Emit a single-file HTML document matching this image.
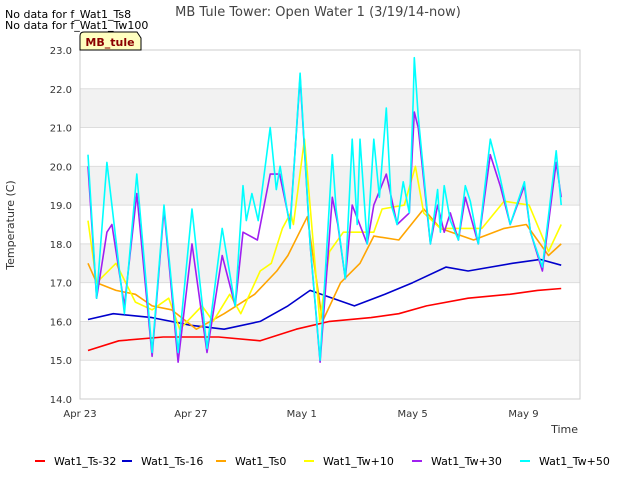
<!DOCTYPE html>
<html><head><meta charset="utf-8"><style>
body{margin:0;background:#fff;font-family:"Liberation Sans","DejaVu Sans",sans-serif;}
svg text{font-family:"DejaVu Sans","Liberation Sans",sans-serif;}
</style></head><body>
<svg id="c" width="640" height="480" xmlns="http://www.w3.org/2000/svg">
<rect width="640" height="480" fill="#fff"/>
<g id="bands"></g><g id="grid"></g>
<rect x="80" y="50" width="500" height="349" fill="none" stroke="#ccc"/>
<g id="ticks"></g><g id="series"></g>
<text x="318" y="16" text-anchor="middle" font-size="13" fill="#444">MB Tule Tower: Open Water 1 (3/19/14-now)</text>
<text x="5" y="18" font-size="11" fill="#000">No data for f_Wat1_Ts8</text>
<text x="5" y="29" font-size="11" fill="#000">No data for f_Wat1_Tw100</text>
<path d="M80,50 L80,36 Q80,32 84,32 L137,32 L141,38 L141,50 Z" fill="#ffffc0" stroke="#000"/>
<text x="110" y="46" text-anchor="middle" font-size="11" font-weight="bold" fill="#8b0000">MB_tule</text>
<text x="14" y="225" text-anchor="middle" font-size="11" fill="#333" transform="rotate(-90 14 225)">Temperature (C)</text>
<text x="578" y="433" text-anchor="end" font-size="11" fill="#333">Time</text>
<g id="legend"></g>
</svg>
<script>
const yTicks=[14,15,16,17,18,19,20,21,22,23];
const xTickDays=[0,4,8,12,16];
const xTickLabels=["Apr 23","Apr 27","May 1","May 5","May 9"];
const names=["Wat1_Ts-32","Wat1_Ts-16","Wat1_Ts0","Wat1_Tw+10","Wat1_Tw+30","Wat1_Tw+50"];
const colors=["#ff0000","#0000cc","#ffa500","#ffff00","#a020f0","#00ffff"];
const dRed=[0.29,1.4,3.0,5.0,6.5,7.8,9.0,10.5,11.5,12.5,14.0,15.5,16.5,17.36];
const vRed=[15.25,15.5,15.6,15.6,15.5,15.8,16.0,16.1,16.2,16.4,16.6,16.7,16.8,16.85];
const dBlue=[0.29,1.2,2.6,4.0,5.2,6.5,7.5,8.3,9.9,11.0,12.0,13.2,14.0,15.6,16.6,17.36];
const vBlue=[16.05,16.2,16.1,15.9,15.8,16.0,16.4,16.8,16.4,16.7,17.0,17.4,17.3,17.5,17.6,17.45];
const dOr=[0.29,0.6,1.3,2.0,2.6,3.3,4.2,5.2,6.3,7.1,7.5,8.2,8.75,9.4,10.1,10.6,11.5,12.4,13.0,14.2,15.3,16.1,16.9,17.36];
const vOr=[17.5,17.0,16.8,16.7,16.4,16.3,15.8,16.2,16.7,17.3,17.7,18.7,16.0,17.0,17.5,18.2,18.1,18.9,18.4,18.1,18.4,18.5,17.7,18.0];
const dYel=[0.29,0.6,1.3,2.0,2.6,3.2,3.6,4.4,4.8,5.4,5.8,6.5,6.9,7.3,7.6,7.7,8.1,8.65,9.0,9.5,10.6,10.9,11.7,12.1,12.4,13.0,14.5,15.3,16.2,16.9,17.36];
const vYel=[18.6,17.0,17.5,16.5,16.3,16.6,15.8,16.4,16.0,16.7,16.2,17.3,17.5,18.4,18.8,18.5,20.7,16.0,17.8,18.3,18.3,18.9,19.0,20.0,18.8,18.4,18.4,19.1,19.0,17.8,18.5];
const dPur=[0.29,0.6,0.97,1.15,1.6,2.05,2.6,3.03,3.54,4.04,4.58,5.13,5.6,5.88,6.4,6.86,7.2,7.58,7.94,8.3,8.66,9.1,9.3,9.57,9.82,10.36,10.6,11.05,11.44,11.88,12.06,12.2,12.64,12.9,13.14,13.36,13.65,13.9,14.37,14.8,15.16,15.52,16.03,16.25,16.68,17.18,17.36];
const vPur=[20.0,16.6,18.3,18.5,16.4,19.3,15.1,18.9,14.95,18.0,15.2,17.7,16.4,18.3,18.1,19.8,19.8,18.5,22.3,18.0,14.95,19.2,18.5,17.1,19.0,18.0,19.0,19.8,18.5,18.8,21.4,21.0,18.0,19.0,18.3,18.8,18.1,19.2,18.0,20.3,19.5,18.5,19.5,18.3,17.3,20.1,19.2];
const dCy=[0.29,0.6,0.97,1.15,1.6,2.05,2.6,3.03,3.54,4.04,4.58,5.13,5.6,5.88,6.0,6.2,6.43,6.86,7.08,7.22,7.58,7.94,8.3,8.66,9.1,9.24,9.57,9.82,10.0,10.1,10.36,10.6,10.8,11.05,11.23,11.44,11.66,11.88,12.02,12.06,12.2,12.64,12.9,13.0,13.14,13.36,13.65,13.9,14.08,14.37,14.8,15.16,15.52,16.03,16.25,16.68,17.18,17.36];
const vCy=[20.3,16.6,20.1,19.0,16.2,19.8,15.2,19.0,15.2,18.9,15.3,18.4,16.4,19.5,18.6,19.3,18.6,21.0,19.4,20.0,18.4,22.4,18.0,15.0,20.3,18.9,17.1,20.7,18.5,20.7,18.0,20.7,19.2,21.5,19.0,18.5,19.6,18.8,21.7,22.8,21.3,18.0,19.4,18.3,19.5,18.6,18.1,19.5,19.1,18.0,20.7,19.7,18.5,19.6,18.3,17.4,20.4,19.0];
const seriesD=[dRed,dBlue,dOr,dYel,dPur,dCy];
const seriesV=[vRed,vBlue,vOr,vYel,vPur,vCy];
const NS="http://www.w3.org/2000/svg";
const X=d=>80+d*27.72, Y=v=>399-(v-14)*38.78;
function mk(t,a,p){const e=document.createElementNS(NS,t);for(const k in a)e.setAttribute(k,a[k]);document.getElementById(p).appendChild(e);return e;}
for(const t of yTicks){
  if(t<23&&t%2===1){const b=mk('rect',{x:80,y:Y(t+1),width:500,height:Y(t)-Y(t+1),fill:'#f2f2f2'},'bands');
  
  }
  const g=mk('line',{x1:80,x2:580,y1:Y(t),y2:Y(t),stroke:'#dddddd'},'grid');
  
  
  const l=mk('text',{x:72,y:Y(t)+4,'text-anchor':'end','font-size':10,fill:'#333'},'ticks');
  l.textContent=t.toFixed(1);
  
  
}
xTickDays.forEach((d,i)=>{
  const l=mk('text',{x:X(d),y:417,'text-anchor':'middle','font-size':10,fill:'#333'},'ticks');
  l.textContent=xTickLabels[i];
  
  
});
seriesD.forEach((ds,i)=>{
  const pts=ds.map((d,j)=>X(d).toFixed(1)+','+Y(seriesV[i][j]).toFixed(1)).join(' ');
  const p=mk('polyline',{points:pts,fill:'none',stroke:colors[i],'stroke-width':1.6,'stroke-linejoin':'round'},'series');
  
  
});
const lx=[35,122,216,304,412,520];
names.forEach((n,i)=>{
  const l=mk('line',{x1:lx[i],x2:lx[i]+10,y1:461,y2:461,stroke:colors[i],'stroke-width':2},'legend');
  
  
  const t=mk('text',{x:lx[i]+19,y:465,'font-size':11,fill:'#000'},'legend');
  t.textContent=n;
  
  
});
</script>
</body></html>
